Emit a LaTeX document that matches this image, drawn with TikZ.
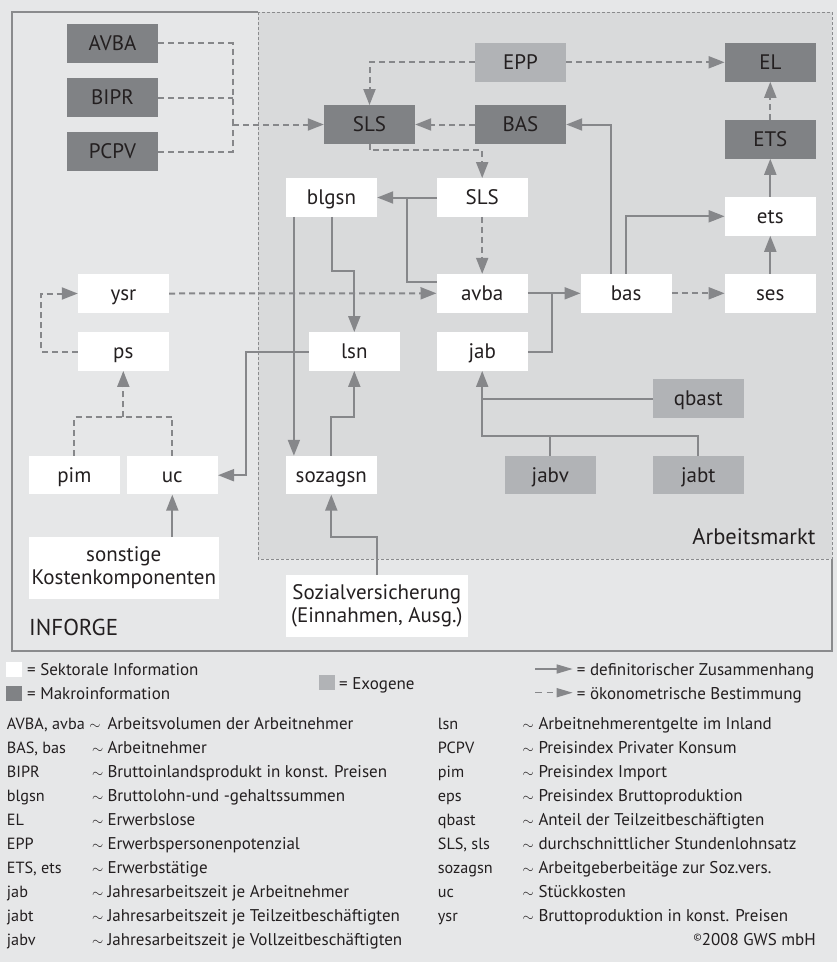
\documentclass[tikz,border=0pt]{standalone}
\usepackage{fontspec}
\setmainfont{PT Sans}
\usetikzlibrary{arrows.meta,calc}
\definecolor{bgc}{HTML}{E6E7E8}
\definecolor{amc}{HTML}{D9DADB}
\definecolor{darkc}{HTML}{808285}
\definecolor{exoc}{HTML}{B1B3B6}
\definecolor{linec}{HTML}{86878A}
\definecolor{framec}{HTML}{8A8B8D}
\definecolor{txtc}{HTML}{231F20}
\begin{document}
\begin{tikzpicture}[x=1pt,y=-1pt,
  every node/.style={text=txtc},
  box/.style={minimum width=91pt,minimum height=38.5pt,inner sep=0pt,font=\fontsize{21}{23.3}\selectfont},
  one/.style={text height=14pt,text depth=0pt},
  sect/.style={box,fill=white},
  macro/.style={box,one,fill=darkc},
  exo/.style={box,one,fill=exoc},
  defl/.style={draw=linec,line width=2pt},
  ecol/.style={defl,dash pattern=on 6pt off 4pt},
  def/.style={defl,-{Triangle[length=16pt,width=12pt]}},
  eco/.style={ecol,-{Triangle[length=16pt,width=12pt]}},
  legf/.style={font=\fontsize{17}{20}\selectfont,inner sep=0pt},
  abbf/.style={font=\fontsize{16.2}{19}\selectfont,inner sep=0pt},
  tilf/.style={font=\fontsize{13.5}{16}\selectfont,inner sep=0pt},
  legsq/.style={minimum width=16pt,minimum height=15pt,inner sep=0pt},
  legarrow/.style={draw=linec,line width=1.5pt,-{Triangle[length=16pt,width=9pt]}}
]
\useasboundingbox (0,0) rectangle (837,962);
\fill[bgc] (0,0) rectangle (837,962);
% frames
\draw[framec,line width=1.5pt] (258,12) -- (12,12) -- (12,651) -- (832,651) -- (832,559);
\fill[amc] (258,12) rectangle (832,559);
\draw[framec,line width=1pt,dash pattern=on 3pt off 2pt] (258,12) rectangle (832,559);
\node[anchor=base east,font=\fontsize{22.5}{26}\selectfont,inner sep=0pt] (lAM) at (815.7,544) {Arbeitsmarkt};
\node[anchor=base west,font=\fontsize{23}{26}\selectfont,inner sep=0pt] (lINF) at (29,635) {INFORGE};
% nodes
\node[macro] (AVBA) at (112.5,43.3) {AVBA};
\node[macro] (BIPR) at (112.5,97.5) {BIPR};
\node[macro] (PCPV) at (112.5,151.5) {PCPV};
\node[macro] (SLSd) at (369.5,124.5) {SLS};
\node[exo] (EPP) at (520.5,62.3) {EPP};
\node[macro] (EL) at (770.3,62.3) {EL};
\node[macro] (BAS) at (520.5,124.5) {BAS};
\node[macro] (ETS) at (770.3,139.3) {ETS};
\node[sect,one] (blgsn) at (331.5,197.5) {blgsn};
\node[sect,one] (SLSw) at (482.2,197.5) {SLS};
\node[sect,one] (ets) at (770.3,216.3) {ets};
\node[sect,one] (ysr) at (123.5,293.5) {ysr};
\node[sect,one] (avba) at (482.2,293.3) {avba};
\node[sect,one] (bas) at (626.2,293.3) {bas};
\node[sect,one] (ses) at (770.3,293.3) {ses};
\node[sect,one] (ps) at (123.3,351.5) {ps};
\node[sect,one] (lsn) at (354.3,351.5) {lsn};
\node[sect,one] (jab) at (482.2,351.5) {jab};
\node[exo] (qbast) at (698.3,398.5) {qbast};
\node[sect,one] (pim) at (74.3,475.2) {pim};
\node[sect,one] (uc) at (172.3,475.2) {uc};
\node[sect,one] (sozagsn) at (331.3,475.2) {sozagsn};
\node[exo] (jabv) at (550.3,475.2) {jabv};
\node[exo] (jabt) at (698.3,475.2) {jabt};
\node[sect,minimum width=189.7pt,minimum height=61.4pt,align=center] (sonst) at (123.8,568) {sonstige\\Kostenkomponenten};
\node[sect,minimum width=181.7pt,minimum height=61.4pt,align=center] (soz) at (376.8,606) {Sozialversicherung\\(Einnahmen, Ausg.)};
% connectors
\coordinate (jA) at (233,124.5);
\draw[ecol] (AVBA.east) -| (jA);
\draw[ecol] (BIPR.east) -- (BIPR.east -| jA);
\draw[ecol] (PCPV.east) -| (jA);
\draw[eco] (jA) -- (SLSd.west);
\draw[eco] (EPP.west) -| (SLSd.north);
\draw[eco] (EPP.east) -- (EL.west);
\draw[eco] (BAS.west) -- (SLSd.east);
\draw[eco] (ETS.north) -- (EL.south);
\draw[eco] (SLSd.south) -- ++(0,6.3) -| (SLSw.north);
\draw[eco] (SLSw.south) -- (avba.north);
\draw[def] (SLSw.west) -- (blgsn.east);
\coordinate (jB) at (406.7,197.5);
\draw[defl] ([yshift=11.6pt]avba.west) -| (jB);
\draw[def] (avba.east) -- (bas.west);
\coordinate (jC) at (551.7,293.3);
\draw[defl] (jab.east) -| (jC);
\draw[def] ([xshift=-15.5pt]bas.north) |- (BAS.east);
\draw[def] (bas.north) |- (ets.west);
\draw[eco] (bas.east) -- (ses.west);
\draw[def] (ses.north) -- (ets.south);
\draw[def] (ets.north) -- (ETS.south);
\draw[eco] (ysr.east) -- (avba.west);
\draw[eco] (ps.west) -- ++(-36.5,0) |- (ysr.west);
\draw[def] (blgsn.south) -- ++(0,54) -| (lsn.north);
\draw[def] ([xshift=-37.6pt]blgsn.south) -- ([xshift=-37.6pt]blgsn.south |- sozagsn.north);
\draw[def] (sozagsn.north) -- ++(0,-38.7) -| (lsn.south);
\draw[def] (lsn.west) -- ++(-62.3,0) |- (uc.east);
\draw[ecol] (pim.north) -- ++(0,-38.7) -| (uc.north);
\coordinate (jD) at (123.3,417.3);
\draw[eco] (jD) -- (ps.south);
\draw[def] (uc.south |- sonst.north) -- (uc.south);
\draw[def] (soz.north) -- ++(0,-38.3) -| (sozagsn.south);
\draw[def] (qbast.west) -| (jab.south);
\coordinate (jE) at (jab.south |- qbast.west);
\draw[defl] (jabt.north) -- ++(0,-19.7) -| (jE);
\draw[defl] (jabv.north) -- ++(0,-19.7);
% legend
\node[legsq,fill=white] (sqS) at (14,669.8) {};
\node[legsq,fill=darkc] (sqM) at (14,693.7) {};
\node[legsq,fill=exoc] (sqE) at (327.2,682.2) {};
\node[legf,anchor=base west] (tS) at (27,675) {= Sektorale Information};
\node[legf,anchor=base west] (tM) at (27,699) {= Makroinformation};
\node[legf,anchor=base west] (tE) at (339,689.3) {= Exogene};
\coordinate (la1) at (535,669); \coordinate (lb1) at (572.7,669);
\coordinate (la2) at (535,692.7); \coordinate (lb2) at (572.7,692.7);
\draw[legarrow] (la1) -- (lb1);
\draw[legarrow,dash pattern=on 6.5pt off 5pt] (la2) -- (lb2);
\node[legf,anchor=base west] (tD) at (576.7,675) {= definitorischer Zusammenhang};
\node[legf,anchor=base west] (tO) at (576.7,699) {= ökonometrische Bestimmung};
\foreach \i/\tx/\ab/\de in {0/95/{AVBA, avba}/{Arbeitsvolumen der Arbeitnehmer},
  1/97.8/{BAS, bas}/{Arbeitnehmer},
  2/97.8/{BIPR}/{Bruttoinlandsprodukt in konst. Preisen},
  3/97.8/{blgsn}/{Bruttolohn-und -gehaltssummen},
  4/97.8/{EL}/{Erwerbslose},
  5/97.8/{EPP}/{Erwerbspersonenpotenzial},
  6/97.8/{ETS, ets}/{Erwerbstätige},
  7/97.8/{jab}/{Jahresarbeitszeit je Arbeitnehmer},
  8/97.8/{jabt}/{Jahresarbeitszeit je Teilzeitbeschäftigten},
  9/97.8/{jabv}/{Jahresarbeitszeit je Vollzeitbeschäftigten}}{
  \node[abbf,anchor=base west] (la\i) at (6.7,{729.3+24*\i}) {\ab};
  \node[tilf,anchor=base] (lt\i) at (\tx,{729.3+24*\i}) {$\sim$};
  \node[legf,anchor=base west] (ld\i) at (107.3,{729.3+24*\i}) {\de};
}
\foreach \i/\ab/\de in {0/{lsn}/{Arbeitnehmerentgelte im Inland},
  1/{PCPV}/{Preisindex Privater Konsum},
  2/{pim}/{Preisindex Import},
  3/{eps}/{Preisindex Bruttoproduktion},
  4/{qbast}/{Anteil der Teilzeitbeschäftigten},
  5/{SLS, sls}/{durchschnittlicher Stundenlohnsatz},
  6/{sozagsn}/{Arbeitgeberbeitäge zur Soz.vers.},
  7/{uc}/{Stückkosten},
  8/{ysr}/{Bruttoproduktion in konst. Preisen}}{
  \node[abbf,anchor=base west] (ra\i) at (437.7,{729.3+24*\i}) {\ab};
  \node[tilf,anchor=base] (rt\i) at (528.3,{729.3+24*\i}) {$\sim$};
  \node[legf,anchor=base west] (rd\i) at (538.3,{729.3+24*\i}) {\de};
}
\node[legf,anchor=base east] (copy) at (816,945.3) {\raisebox{4.5pt}{\fontsize{10}{10}\selectfont\textcopyright}2008 GWS mbH};
\end{tikzpicture}
\end{document}
